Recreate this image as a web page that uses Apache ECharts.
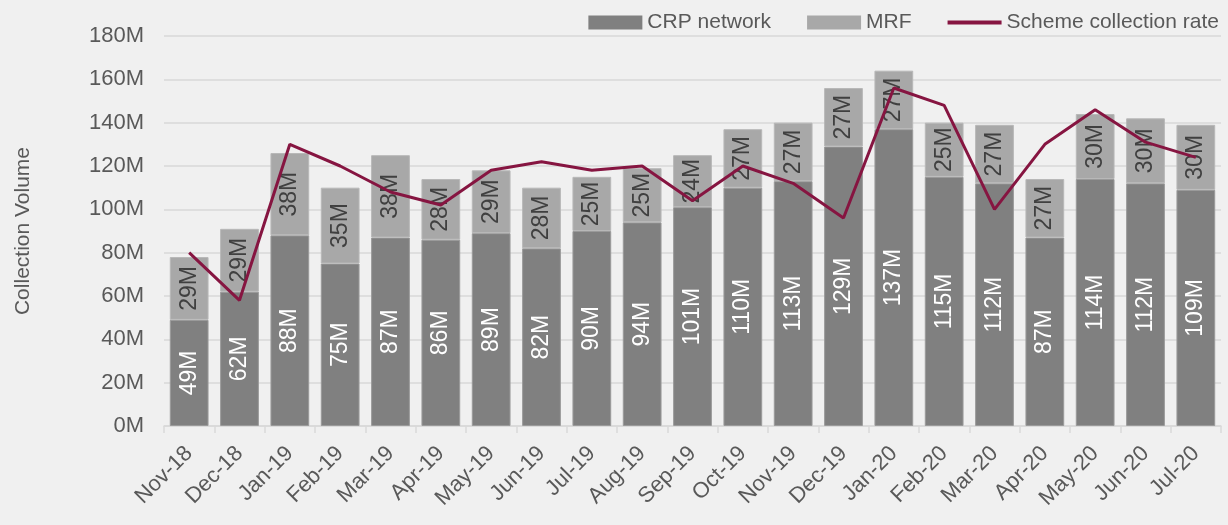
<!DOCTYPE html>
<html>
<head>
<meta charset="utf-8">
<script src="https://cdn.jsdelivr.net/npm/echarts@6/dist/echarts.min.js"></script>
<style>
  html, body { margin: 0; padding: 0; background: #f0f0f0; }
  #main { width: 1228px; height: 525px; }
</style>
</head>
<body>
<div id="main"></div>
<script>
var months = ['Nov-18','Dec-18','Jan-19','Feb-19','Mar-19','Apr-19','May-19','Jun-19','Jul-19','Aug-19',
              'Sep-19','Oct-19','Nov-19','Dec-19','Jan-20','Feb-20','Mar-20','Apr-20','May-20','Jun-20','Jul-20'];
var crpNetwork = [49, 62, 88, 75, 87, 86, 89, 82, 90, 94, 101, 110, 113, 129, 137, 115, 112, 87, 114, 112, 109];
var mrf = [29, 29, 38, 35, 38, 28, 29, 28, 25, 25, 24, 27, 27, 27, 27, 25, 27, 27, 30, 30, 30];
var schemeRate = [80, 58, 130, 120, 108, 102, 118, 122, 118, 120, 104, 120, 112, 96, 156, 148, 100, 130, 146, 131, 124];
var volumeTicks = [0, 20, 40, 60, 80, 100, 120, 140, 160, 180];

var font = 'Liberation Sans';
var fmtM = function (p) { return p.value + 'M'; };
var chart = echarts.init(document.getElementById('main'));
var option = {
    backgroundColor: '#f0f0f0',
    textStyle: { fontFamily: font },
    grid: { left: 164, right: 7, top: 36, bottom: 99 },
    legend: {
        right: 4, top: 7,
        itemWidth: 54, itemHeight: 14, itemGap: 36,
        itemStyle: { borderWidth: 0 },
        textStyle: { fontFamily: font, fontSize: 21, color: '#595959' },
        data: [
            { name: 'CRP network', icon: 'rect' },
            { name: 'MRF', icon: 'rect' },
            { name: 'Scheme collection rate', icon: 'path://M0,0H54V4H0Z' }
        ]
    },
    xAxis: {
        type: 'category',
        data: months,
        axisLine: { lineStyle: { color: '#d9d9d9', width: 1.5 } },
        axisTick: { show: true, length: 7, lineStyle: { color: '#d9d9d9', width: 1.5 } },
        axisLabel: { rotate: 45, fontSize: 22, color: '#595959', margin: 24, interval: 0 }
    },
    yAxis: [{
        type: 'value',
        min: volumeTicks[0], max: volumeTicks[volumeTicks.length - 1], interval: 20,
        name: 'Collection Volume', nameLocation: 'middle', nameGap: 130, nameRotate: 90,
        nameTextStyle: { fontSize: 21, color: '#595959' },
        axisLine: { show: false }, axisTick: { show: false },
        axisLabel: { fontSize: 22, color: '#595959', margin: 20, formatter: function (v) { return v + 'M'; } },
        splitLine: { lineStyle: { color: '#d9d9d9', width: 1.5 } }
    }, {
        type: 'value', min: 0, max: 180, show: false, splitLine: { show: false }
    }],
    series: [{
        name: 'CRP network', type: 'bar', stack: 'vol', data: crpNetwork,
        barCategoryGap: '23%',
        itemStyle: { color: '#808080', borderColor: '#9a9a9a', borderWidth: 1 },
        label: { show: true, position: 'inside', rotate: 90, fontSize: 23, color: '#ffffff', formatter: fmtM }
    }, {
        name: 'MRF', type: 'bar', stack: 'vol', data: mrf,
        itemStyle: { color: '#a8a8a8', borderColor: '#b8b8b8', borderWidth: 1 },
        label: { show: true, position: 'inside', rotate: 90, fontSize: 23, color: '#404040', formatter: fmtM }
    }, {
        name: 'Scheme collection rate', type: 'line', yAxisIndex: 1, data: schemeRate,
        symbol: 'none', lineStyle: { color: '#861541', width: 3 }, itemStyle: { color: '#861541' }
    }]
};
chart.setOption(option);
window.addEventListener('resize', function () { chart.resize(); });
</script>
</body>
</html>
